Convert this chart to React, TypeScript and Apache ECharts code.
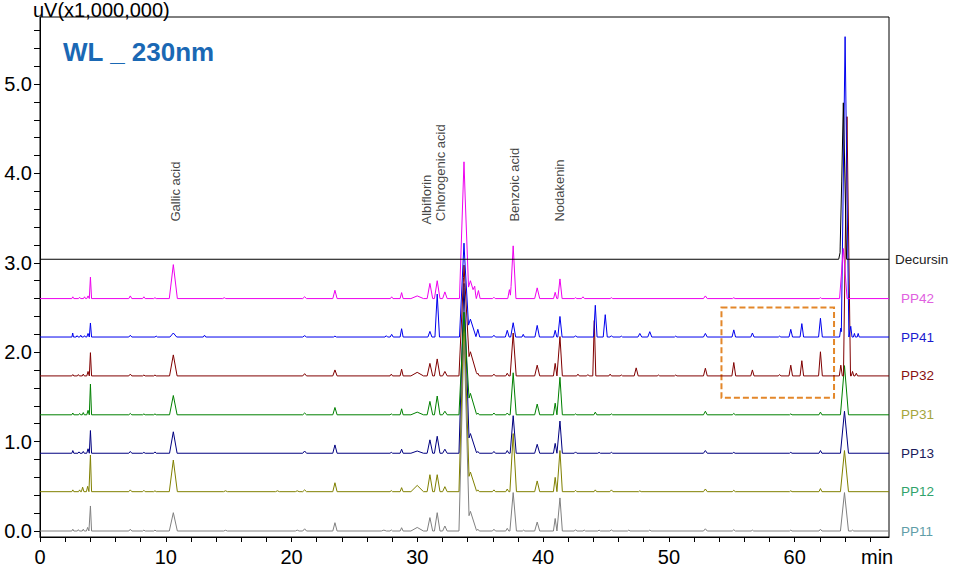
import React, { useEffect, useRef } from 'react';
import * as echarts from 'echarts';

// ---------- axis ranges & ticks ----------
const X_MAX = 67.5;
const Y_MIN = -0.067;
const Y_MAX = 5.75;
const xTickValues = [0, 2, 4, 6, 8, 10, 12, 14, 16, 18, 20, 22, 24, 26, 28, 30, 32, 34, 36, 38, 40, 42, 44, 46, 48, 50, 52, 54, 56, 58, 60, 62, 64, 66];
const xLabelValues = [0, 10, 20, 30, 40, 50, 60];
const yTickValues = [0, 0.2, 0.4, 0.6, 0.8, 1, 1.2, 1.4, 1.6, 1.8, 2, 2.2, 2.4, 2.6, 2.8, 3, 3.2, 3.4, 3.6, 3.8, 4, 4.2, 4.4, 4.6, 4.8, 5, 5.2, 5.4, 5.6];
const yLabelValues = [0, 1, 2, 3, 4, 5];

// ---------- traces ----------
const traceNames = ['PP11', 'PP12', 'PP13', 'PP31', 'PP32', 'PP41', 'PP42', 'Decursin'];
const traceBaselines = [0, 0.44, 0.87, 1.3, 1.735, 2.17, 2.6, 3.04];
const lineColors = ['#808080', '#808000', '#000080', '#008000', '#800000', '#0000ee', '#ee00ee', '#000000'];
const labelColors = ['#5f9ea8', '#2fa36b', '#1a1a5a', '#a5a53c', '#8a1010', '#1a1ad0', '#e060e0', '#222222'];

// peaks: [retention time (min), height (uV x1e6), half width (min)]
const pp11Peaks = [
  [2.61, 0.02, 0.08], [3.05, 0.015, 0.08], [3.44, 0.02, 0.08], [3.79, 0.04, 0.1], [4.01, 0.28, 0.09],
  [7.18, 0.02, 0.12], [8.26, 0.01, 0.1], [9.14, 0.01, 0.1], [10.6, 0.205, 0.32], [14.75, 0.008, 0.15],
  [20.45, 0.01, 0.15], [21.04, 0.025, 0.15], [23.45, 0.093, 0.17], [27.34, 0.01, 0.2], [27.93, 0.012, 0.1],
  [28.75, 0.037, 0.12], [29.99, 0.04, 0.5], [31.0, 0.15, 0.22], [31.58, 0.205, 0.22], [32.19, 0.056, 0.18],
  [33.71, 2.2, 0.4], [34.22, 0.22, 0.5], [34.81, 0.02, 0.12], [36.09, 0.02, 0.12], [37.15, 0.03, 0.12],
  [37.62, 0.43, 0.26], [38.45, 0.01, 0.1], [39.53, 0.1, 0.2], [40.96, 0.14, 0.14], [41.34, 0.37, 0.19],
  [42.58, 0.015, 0.1], [43.27, 0.01, 0.1], [44.45, 0.01, 0.1], [45.43, 0.012, 0.12], [46.81, 0.01, 0.1],
  [48.48, 0.01, 0.1], [52.9, 0.025, 0.15], [55.16, 0.015, 0.12], [56.64, 0.01, 0.1], [59.69, 0.01, 0.1],
  [62.05, 0.02, 0.12], [63.96, 0.43, 0.32], [64.6, 0.01, 0.1],
];
const pp12Peaks = [
  [2.61, 0.02, 0.08], [3.15, 0.02, 0.08], [3.39, 0.05, 0.1], [3.79, 0.06, 0.1], [4.01, 0.41, 0.09],
  [7.18, 0.02, 0.12], [8.26, 0.015, 0.1], [9.14, 0.01, 0.1], [10.6, 0.354, 0.32], [14.75, 0.01, 0.15],
  [18.88, 0.01, 0.15], [20.45, 0.01, 0.15], [21.04, 0.02, 0.15], [23.45, 0.1, 0.17], [27.93, 0.012, 0.1],
  [28.75, 0.045, 0.12], [29.99, 0.07, 0.5], [31.0, 0.19, 0.22], [31.58, 0.19, 0.22], [32.19, 0.056, 0.18],
  [33.71, 2.0, 0.4], [34.22, 0.22, 0.5], [34.81, 0.02, 0.12], [36.09, 0.02, 0.12], [37.15, 0.03, 0.12],
  [37.62, 0.65, 0.26], [39.53, 0.12, 0.2], [40.96, 0.16, 0.14], [41.34, 0.46, 0.19], [42.58, 0.015, 0.1],
  [44.15, 0.02, 0.1], [45.43, 0.02, 0.12], [47.69, 0.01, 0.1], [52.9, 0.03, 0.15], [55.16, 0.015, 0.12],
  [59.69, 0.01, 0.1], [62.05, 0.035, 0.12], [63.96, 0.46, 0.32],
];
const pp13Peaks = [
  [2.61, 0.03, 0.08], [3.1, 0.015, 0.08], [3.44, 0.02, 0.08], [3.82, 0.05, 0.1], [4.01, 0.254, 0.09],
  [7.18, 0.02, 0.12], [8.26, 0.01, 0.1], [9.14, 0.015, 0.1], [10.6, 0.24, 0.3], [21.04, 0.025, 0.15],
  [23.45, 0.093, 0.17], [27.93, 0.01, 0.1], [28.75, 0.045, 0.12], [29.99, 0.025, 0.5], [31.0, 0.15, 0.22],
  [31.58, 0.19, 0.22], [32.19, 0.045, 0.18], [33.71, 1.9, 0.4], [34.22, 0.22, 0.5], [34.81, 0.02, 0.12],
  [36.09, 0.02, 0.12], [37.15, 0.03, 0.12], [37.62, 0.42, 0.24], [39.53, 0.1, 0.2], [40.96, 0.11, 0.14],
  [41.34, 0.36, 0.19], [42.58, 0.015, 0.1], [44.45, 0.01, 0.1], [45.43, 0.01, 0.1], [52.9, 0.03, 0.15],
  [55.16, 0.01, 0.1], [59.69, 0.01, 0.1], [62.05, 0.03, 0.12], [63.96, 0.47, 0.32],
];
const pp31Peaks = [
  [2.61, 0.02, 0.08], [3.15, 0.015, 0.08], [3.44, 0.025, 0.08], [3.82, 0.05, 0.1], [4.01, 0.343, 0.09],
  [7.18, 0.015, 0.12], [8.26, 0.01, 0.1], [9.14, 0.01, 0.1], [10.6, 0.216, 0.3], [21.04, 0.02, 0.15],
  [23.45, 0.082, 0.17], [27.93, 0.01, 0.1], [28.75, 0.067, 0.12], [29.99, 0.03, 0.5], [31.0, 0.15, 0.22],
  [31.58, 0.21, 0.22], [32.19, 0.04, 0.18], [33.71, 1.15, 0.4], [34.22, 0.24, 0.5], [34.81, 0.02, 0.12],
  [36.09, 0.02, 0.12], [37.15, 0.02, 0.12], [37.62, 0.47, 0.24], [39.53, 0.12, 0.2], [40.96, 0.13, 0.14],
  [41.34, 0.42, 0.19], [42.58, 0.01, 0.1], [44.15, 0.03, 0.12], [45.43, 0.01, 0.1], [52.9, 0.04, 0.15],
  [55.16, 0.015, 0.12], [59.69, 0.01, 0.1], [62.05, 0.03, 0.12], [63.96, 0.55, 0.32],
];
const pp32Peaks = [
  [2.61, 0.015, 0.08], [3.05, 0.015, 0.08], [3.44, 0.02, 0.08], [3.82, 0.05, 0.1], [4.01, 0.26, 0.09],
  [7.18, 0.02, 0.12], [8.26, 0.01, 0.1], [9.14, 0.01, 0.1], [10.6, 0.235, 0.3], [21.04, 0.025, 0.15],
  [23.45, 0.067, 0.17], [27.93, 0.02, 0.1], [28.75, 0.075, 0.12], [29.99, 0.04, 0.5], [31.0, 0.14, 0.22],
  [31.58, 0.19, 0.22], [32.19, 0.05, 0.18], [33.71, 1.22, 0.4], [34.22, 0.27, 0.55], [34.81, 0.03, 0.12],
  [36.09, 0.02, 0.12], [37.15, 0.03, 0.12], [37.62, 0.48, 0.24], [39.53, 0.12, 0.2], [40.96, 0.14, 0.14],
  [41.34, 0.44, 0.19], [42.77, 0.02, 0.1], [43.56, 0.015, 0.1], [44.07, 0.62, 0.12], [45.33, 0.02, 0.1],
  [46.22, 0.01, 0.1], [47.4, 0.09, 0.16], [49.17, 0.01, 0.1], [50.54, 0.01, 0.1], [52.9, 0.086, 0.15],
  [55.16, 0.15, 0.15], [56.64, 0.067, 0.13], [58.8, 0.015, 0.1], [59.69, 0.12, 0.14], [60.57, 0.17, 0.14],
  [62.05, 0.27, 0.15], [63.67, 0.12, 0.12], [64.16, 2.9, 0.28], [64.6, 0.05, 0.1], [64.9, 0.03, 0.1],
];
const pp41Peaks = [
  [2.6, 0.045, 0.06], [2.95, 0.015, 0.08], [3.24, 0.02, 0.08], [3.54, 0.015, 0.08], [3.82, 0.04, 0.1],
  [4.01, 0.157, 0.09], [7.18, 0.02, 0.12], [9.24, 0.01, 0.1], [10.6, 0.045, 0.27], [13.08, 0.02, 0.1],
  [21.04, 0.015, 0.15], [23.45, 0.01, 0.12], [27.53, 0.015, 0.1], [27.96, 0.03, 0.12], [28.75, 0.093, 0.12],
  [31.0, 0.063, 0.16], [31.58, 0.48, 0.18], [33.71, 1.05, 0.36], [34.22, 0.2, 0.45], [34.81, 0.086, 0.15],
  [36.09, 0.02, 0.12], [37.15, 0.075, 0.15], [37.62, 0.16, 0.2], [38.42, 0.03, 0.1], [39.53, 0.13, 0.18],
  [40.96, 0.075, 0.13], [41.34, 0.23, 0.17], [42.58, 0.015, 0.1], [44.15, 0.355, 0.14], [44.94, 0.25, 0.16],
  [45.43, 0.015, 0.1], [46.22, 0.01, 0.1], [47.69, 0.04, 0.15], [48.48, 0.06, 0.16], [50.54, 0.01, 0.1],
  [52.9, 0.04, 0.15], [55.16, 0.08, 0.14], [56.64, 0.045, 0.13], [58.8, 0.01, 0.1], [59.69, 0.086, 0.14],
  [60.57, 0.15, 0.14], [62.05, 0.21, 0.15], [63.67, 0.1, 0.1], [64.01, 3.36, 0.3], [64.46, 0.12, 0.1],
  [64.75, 0.04, 0.08], [65.05, 0.04, 0.08],
];
const pp42Peaks = [
  [2.61, 0.02, 0.08], [3.15, 0.015, 0.08], [3.54, 0.02, 0.08], [3.82, 0.03, 0.1], [4.01, 0.24, 0.09],
  [7.18, 0.03, 0.12], [8.26, 0.02, 0.1], [9.14, 0.01, 0.1], [10.6, 0.38, 0.32], [14.65, 0.01, 0.12],
  [21.04, 0.02, 0.15], [23.45, 0.093, 0.17], [27.96, 0.02, 0.1], [28.75, 0.067, 0.12], [29.99, 0.03, 0.5],
  [31.0, 0.17, 0.22], [31.58, 0.2, 0.22], [32.19, 0.075, 0.18], [33.71, 1.53, 0.36], [34.22, 0.2, 0.42],
  [34.56, 0.1, 0.13], [34.86, 0.09, 0.13], [36.09, 0.015, 0.1], [37.32, 0.1, 0.13], [37.62, 0.59, 0.22],
  [39.53, 0.12, 0.2], [40.96, 0.07, 0.13], [41.34, 0.22, 0.17], [42.58, 0.01, 0.1], [43.17, 0.02, 0.12],
  [45.43, 0.01, 0.1], [52.9, 0.03, 0.15], [55.16, 0.01, 0.1], [62.05, 0.01, 0.1], [63.87, 0.56, 0.3],
];
const decursinPeaks = [[63.62, 0.08, 0.12], [63.87, 1.75, 0.26]];

const tracePeaks = [pp11Peaks, pp12Peaks, pp13Peaks, pp31Peaks, pp32Peaks, pp41Peaks, pp42Peaks, decursinPeaks];

// ---------- annotations ----------
const peakLabelNames = ['Gallic acid', 'Albiflorin', 'Chlorogenic acid', 'Benzoic acid', 'Nodakenin'];
const peakLabelTimes = [10.79, 30.74, 31.85, 37.76, 41.34];
const peakLabelValues = [3.456, 3.423, 3.46, 3.456, 3.456];

const boxTimes = [54.18, 63.13];
const boxValues = [2.5, 1.49];

const FONT = 'Liberation Sans, Arial, sans-serif';

function buildTrace(base: number, peaks: number[][]) {
  const xs = new Set<number>([0, X_MAX]);
  peaks.forEach(([t, , w]) => {
    [t - w, t, t + w].forEach((x) => {
      if (x >= 0 && x <= X_MAX) xs.add(Math.round(x * 10000) / 10000);
    });
  });
  const sorted = Array.from(xs).sort((a, b) => a - b);
  return sorted.map((x) => {
    let v = base;
    peaks.forEach(([t, h, w]) => {
      const d = Math.abs(x - t);
      if (d < w) v += h * (1 - d / w);
    });
    return [x, v];
  });
}

export default function App() {
  const ref = useRef<HTMLDivElement>(null);
  useEffect(() => {
    if (!ref.current) return;
    const chart = echarts.init(ref.current, null, { renderer: 'svg' });

    const lineSeries: any[] = traceNames.map((name, i) => {
      const s: any = {
        name,
        type: 'line',
        data: buildTrace(traceBaselines[i], tracePeaks[i]),
        showSymbol: false,
        symbol: 'none',
        smooth: false,
        clip: true,
        lineStyle: { width: 1, color: lineColors[i] },
        itemStyle: { color: lineColors[i] },
        z: 2 + i,
        endLabel: {
          show: true,
          formatter: name,
          color: labelColors[i],
          fontSize: 13.5,
          fontFamily: FONT,
          distance: name === 'Decursin' ? 6 : 12,
        },
      };
      if (name === 'Decursin') {
        s.markArea = {
          silent: true,
          itemStyle: {
            color: 'rgba(0,0,0,0)',
            borderColor: '#e3872a',
            borderWidth: 2,
            borderType: [6, 3],
          },
          data: [[{ coord: [boxTimes[0], boxValues[0]] }, { coord: [boxTimes[1], boxValues[1]] }]],
        };
      }
      return s;
    });

    const labelSeries = {
      type: 'scatter',
      symbolSize: 1,
      itemStyle: { color: 'rgba(0,0,0,0)' },
      z: 20,
      data: peakLabelNames.map((n, i) => ({ name: n, value: [peakLabelTimes[i], peakLabelValues[i]] })),
      label: {
        show: true,
        formatter: '{b}',
        position: [0, 0],
        rotate: 90,
        align: 'left',
        verticalAlign: 'middle',
        fontSize: 13,
        fontFamily: FONT,
        color: '#111',
      },
    };

    chart.setOption({
      animation: false,
      backgroundColor: '#ffffff',
      grid: {
        left: 40,
        right: 71,
        top: 17,
        bottom: 33,
        containLabel: false,
        outerBoundsMode: 'none',
        show: true,
        borderColor: '#000',
        borderWidth: 1,
        backgroundColor: 'rgba(0,0,0,0)',
      },
      xAxis: {
        type: 'value',
        min: 0,
        max: X_MAX,
        name: 'min',
        nameLocation: 'end',
        nameGap: -28,
        nameTextStyle: { fontSize: 20, fontFamily: FONT, color: '#000', verticalAlign: 'top', padding: [10, 0, 0, 0] },
        axisLine: { show: true, onZero: false, lineStyle: { color: '#000', width: 1 } },
        axisTick: { show: true, length: 5, customValues: xTickValues, lineStyle: { color: '#000' } },
        axisLabel: { show: true, customValues: xLabelValues, fontSize: 20, fontFamily: FONT, color: '#000', margin: 10 },
        splitLine: { show: false },
      },
      yAxis: {
        type: 'value',
        min: Y_MIN,
        max: Y_MAX,
        axisLine: { show: true, onZero: false, lineStyle: { color: '#000', width: 1 } },
        axisTick: { show: true, length: 6, customValues: yTickValues, lineStyle: { color: '#000' } },
        axisLabel: {
          show: true,
          customValues: yLabelValues,
          formatter: (v: number) => v.toFixed(1),
          fontSize: 20,
          fontFamily: FONT,
          color: '#000',
          margin: 8,
        },
        splitLine: { show: false },
      },
      graphic: [
        {
          type: 'text',
          x: 33,
          y: 10,
          style: { text: 'uV(x1,000,000)', fontSize: 20, fontFamily: FONT, fill: '#000', verticalAlign: 'middle' },
        },
        {
          type: 'text',
          x: 63,
          y: 52,
          style: {
            text: 'WL _ 230nm',
            fontSize: 26,
            fontWeight: 'bold',
            fontFamily: FONT,
            fill: '#1a68b4',
            verticalAlign: 'middle',
          },
        },
      ],
      series: [...lineSeries, labelSeries],
    });
    return () => chart.dispose();
  }, []);
  return <div ref={ref} style={{ position: 'fixed', left: 0, top: 0, width: 960, height: 570 }} />;
}
